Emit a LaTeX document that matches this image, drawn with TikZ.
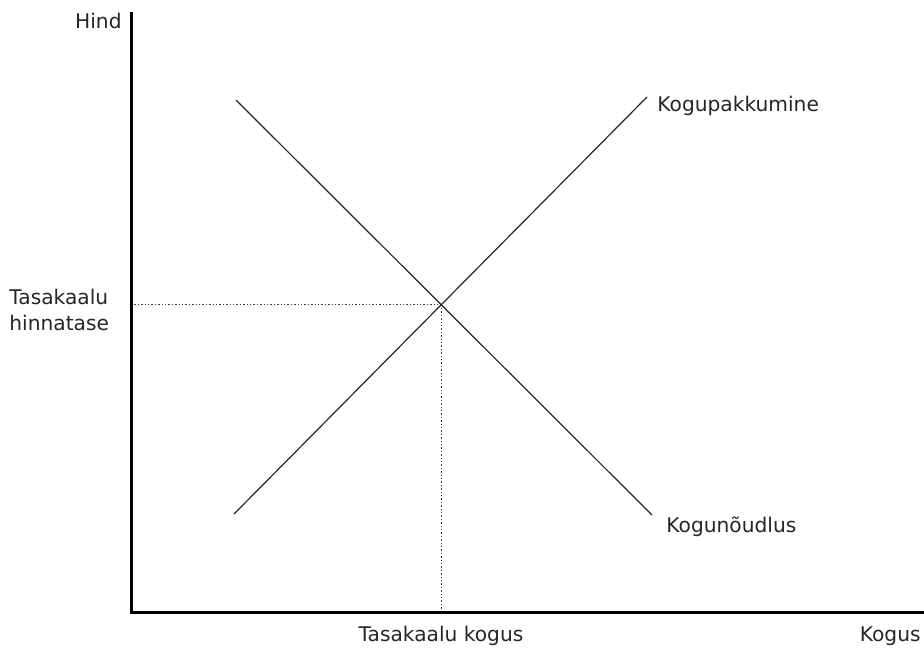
\documentclass[tikz,border=0pt]{standalone}
\usepackage{fontspec}
\setmainfont{DejaVu Sans}
\usepackage{tikz}
\usetikzlibrary{arrows,positioning}

\begin{document}
\begin{tikzpicture}[x=1pt, y=-1pt, thick, node distance=8pt,
    font=\fontsize{20.2}{26}\selectfont]
      \tikzstyle{axis}=[draw=black, line width=3pt]
      \tikzstyle{curve}=[draw=black!85, line width=1.2pt]
      \tikzstyle{guide}=[draw=black!75, line width=1.4pt, dash pattern=on 1.4pt off 2pt]
      \tikzstyle{label}=[inner sep=0pt, text=black!85]

      \useasboundingbox (0,0) rectangle (924,650);

      \coordinate (O) at (131,612);
      \coordinate (top) at (131,12);
      \coordinate (xend) at (924,612);

      % kogupakkumine ja kogunoudlus
      \coordinate (S1) at (234,514);
      \coordinate (S2) at (647,97);
      \coordinate (D1) at (236,100);
      \coordinate (D2) at (652,515);
      \coordinate (E) at (intersection of S1--S2 and D1--D2);
      \coordinate (Ey) at (E -| O);
      \coordinate (Ex) at (E |- O);

      \path[guide] (Ey) -- (E);
      \path[guide] (Ex) -- (E);
      \path[curve] (S1) -- (S2);
      \path[curve] (D1) -- (D2);

      \path[axis] (top) -- (O.center) -- (xend);

      \node[label, anchor=east] (hind) at (122,21) {Hind};
      \node[label, anchor=west, align=left] (hinnatase) at (9,310) {Tasakaalu\\hinnatase};
      \node[label, anchor=west] (pakkumine) at (657,106) {Kogupakkumine};
      \node[label, anchor=west] (noudlus) at (666,527) {Kogunõudlus};
      \node[label] (kogus) at (441,636) {Tasakaalu kogus};
      \node[label, anchor=east] (xlabel) at (921,636) {Kogus};

      \end{tikzpicture}
\end{document}
